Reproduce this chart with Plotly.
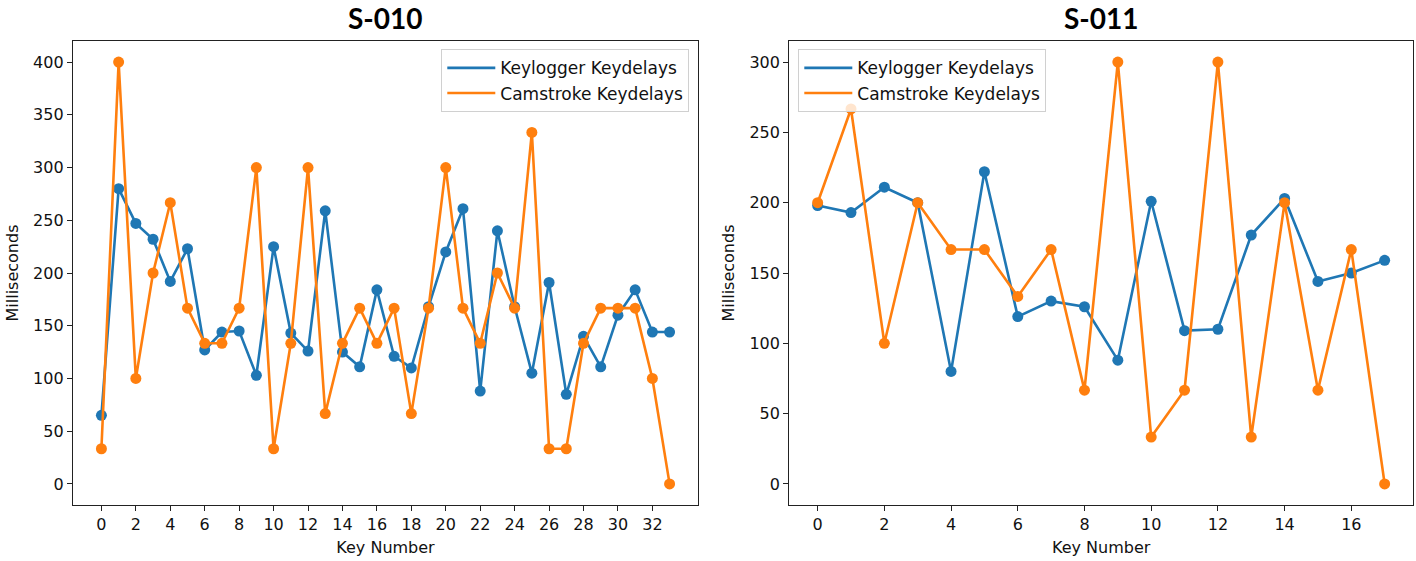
import plotly.graph_objects as go

# ---- data ----
keys_s010 = list(range(34))
keylogger_s010 = [65, 280, 247, 232, 192, 223, 127, 144, 145, 103, 225, 143, 126, 259, 125, 111,
                  184, 121, 110, 168, 220, 261, 88, 240, 168, 105, 191, 85, 140, 111, 160, 184,
                  144, 144]
camstroke_s010 = [33.33, 400, 100, 200, 266.67, 166.67, 133.33, 133.33, 166.67, 300, 33.33, 133.33,
                  300, 66.67, 133.33, 166.67, 133.33, 166.67, 66.67, 166.67, 300, 166.67, 133.33,
                  200, 166.67, 333.33, 33.33, 33.33, 133.33, 166.67, 166.67, 166.67, 100, 0]

keys_s011 = list(range(18))
keylogger_s011 = [198, 193, 211, 200, 80, 222, 119, 130, 126, 88, 201, 109, 110, 177, 203, 144, 150, 159]
camstroke_s011 = [200, 266.67, 100, 200, 166.67, 166.67, 133.33, 166.67, 66.67, 300, 33.33, 66.67,
                  300, 33.33, 200, 66.67, 166.67, 0]

titles = ["S-010", "S-011"]
series_names = ["Keylogger Keydelays", "Camstroke Keydelays"]
colors = ["#1f77b4", "#ff7f0e"]
xticks_s010 = list(range(0, 33, 2))
xticks_s011 = list(range(0, 17, 2))
yticks_s010 = list(range(0, 401, 50))
yticks_s011 = list(range(0, 301, 50))

W, H = 1416, 561
ML, MR, MT, MB = 73, 3, 41, 56
PW, PH = W - ML - MR, H - MT - MB


def px_x(p):
    return (p - ML) / PW


def px_y(p):
    return (H - MB - p) / PH


fig = go.Figure()

panels = [
    (keys_s010, keylogger_s010, camstroke_s010, "x", "y", "legend"),
    (keys_s011, keylogger_s011, camstroke_s011, "x2", "y2", "legend2"),
]
for keys, kl, cs, xa, ya, lg in panels:
    for name, vals, col in zip(series_names, [kl, cs], colors):
        fig.add_trace(go.Scatter(
            x=keys, y=vals, mode="lines+markers", name=name,
            line=dict(color=col, width=2.6),
            marker=dict(color=col, size=11),
            xaxis=xa, yaxis=ya, showlegend=False,
        ))
    # legend entries: line only, like matplotlib
    for name, col in zip(series_names, colors):
        fig.add_trace(go.Scatter(
            x=[None], y=[None], mode="lines", name=name,
            line=dict(color=col, width=2.6),
            xaxis=xa, yaxis=ya, legend=lg, showlegend=True, hoverinfo="skip",
        ))

tickfont = dict(family="DejaVu Sans", size=16, color="#111")
axis_common = dict(
    showline=True, mirror=True, linecolor="#222", linewidth=1.3,
    ticks="outside", ticklen=5, tickwidth=1.2, tickcolor="#222",
    showgrid=False, zeroline=False, tickfont=tickfont, automargin=False,
)
title_font = dict(family="DejaVu Sans", size=16, color="#111")

legend_common = dict(
    bgcolor="rgba(255,255,255,0.8)", bordercolor="#d0d0d0", borderwidth=1,
    font=dict(family="DejaVu Sans", size=17, color="#111"), tracegroupgap=0,
    itemwidth=48,
)

fig.update_layout(
    width=W, height=H,
    margin=dict(l=ML, r=MR, t=MT, b=MB, autoexpand=False),
    paper_bgcolor="white", plot_bgcolor="white",
    xaxis=dict(domain=[0, px_x(698)], range=[-1.65, 34.65], tickvals=xticks_s010,
               title=dict(text="Key Number", font=title_font, standoff=8), anchor="y", **axis_common),
    yaxis=dict(domain=[0, 1], range=[-20, 420], tickvals=yticks_s010,
               title=dict(text="Milliseconds", font=title_font, standoff=10), anchor="x", **axis_common),
    xaxis2=dict(domain=[px_x(789.3), 1], range=[-0.85, 17.85], tickvals=xticks_s011,
                title=dict(text="Key Number", font=title_font, standoff=8), anchor="y2", **axis_common),
    yaxis2=dict(domain=[0, 1], range=[-15, 315], tickvals=yticks_s011,
                title=dict(text="Milliseconds", font=title_font, standoff=10), anchor="x2", **axis_common),
    legend=dict(x=px_x(689.3), y=px_y(49.3), xanchor="right", yanchor="top", **legend_common),
    legend2=dict(x=px_x(798.3), y=px_y(49.3), xanchor="left", yanchor="top", **legend_common),
    showlegend=True,
)

for t, cx in zip(titles, [(73.3 + 698) / 2, (789.3 + 1413.3) / 2]):
    fig.add_annotation(text="<b>%s</b>" % t, x=px_x(cx), y=px_y(18), xref="paper", yref="paper",
                       xanchor="center", yanchor="middle", showarrow=False,
                       font=dict(family="Lato", size=28, color="#000"))

fig.write_html("out.html", config={"displayModeBar": False},
               post_script="document.body.style.margin='0';")
